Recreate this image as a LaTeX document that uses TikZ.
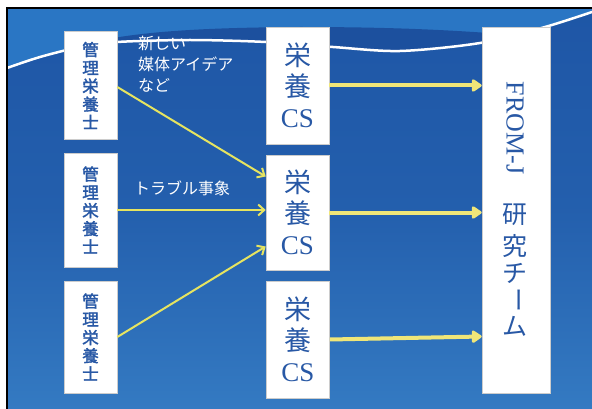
\documentclass[tikz,border=0pt]{standalone}
\usepackage{fontspec}
\setmainfont{Liberation Serif}
\newfontfamily\jp{Noto Sans CJK JP}
\newfontfamily\jpb[FakeBold=2]{Noto Sans CJK JP}
\usetikzlibrary{arrows.meta}
\definecolor{bgtop}{RGB}{30,86,166}
\definecolor{bgbot}{RGB}{52,122,194}
\definecolor{bandlight}{RGB}{42,118,196}
\definecolor{banddark}{RGB}{28,80,158}
\definecolor{txtblue}{RGB}{40,88,165}
\definecolor{arrowyel}{RGB}{230,228,96}
\definecolor{thickyel}{RGB}{240,230,120}
\tikzset{
  kanribox/.style={draw=gray!40,line width=0.6pt,fill=white,minimum width=53pt,inner sep=0pt,
    font=\jpb\fontsize{16.5}{18.2}\selectfont,text=txtblue,align=center},
  csbox/.style={draw=gray!40,line width=0.6pt,fill=white,minimum width=63pt,inner sep=0pt,
    font=\jp\fontsize{27}{31}\selectfont,text=txtblue,align=center},
  fjbox/.style={draw=gray!40,line width=0.6pt,fill=white,minimum width=68pt,minimum height=366pt,inner sep=0pt},
  fjtext/.style={text=txtblue,inner sep=0pt},
  lbl/.style={text=white,font=\jp\fontsize{16}{21}\selectfont,align=left,inner sep=0pt,anchor=north west},
  thin/.style={draw=arrowyel,line width=2pt,-{Straight Barb[length=6pt,width=11pt,line width=2pt]}},
  thick/.style={draw=thickyel,line width=4pt,-{Triangle[length=11pt,width=14pt,round]}},
}
\begin{document}
\begin{tikzpicture}[x=1pt,y=-1pt]
\useasboundingbox (0,0) rectangle (592,409);
% background
\fill[white] (0,0) rectangle (592,409);
\shade[top color=bgtop,bottom color=bgbot,middle color=bgtop!75!bgbot] (7,8) rectangle (592,409);
\begin{scope}
  \clip (7,8) -- plot[smooth] coordinates {(7,68) (40,57) (80,47) (117,42) (190,40) (266,42) (333,47) (400,51) (480,43) (545,27) (592,12)} -- (592,8) -- cycle;
  \fill[bandlight] (7,8) rectangle (592,70);
  \fill[banddark] (7,80) .. controls (60,36) and (150,28) .. (300,27) .. controls (420,27) and (490,32) .. (592,42) -- (592,80) -- cycle;
\end{scope}
\draw[white,line width=2.5pt] plot[smooth] coordinates {(7,68) (40,57) (80,47) (117,42) (190,40) (266,42) (333,47) (400,51) (480,43) (545,27) (592,12)};
\draw[black,line width=1.5pt] (7,409) -- (7,8) -- (592,8);
% left boxes
\node[kanribox,minimum height=108pt] (k1) at (90.5,85.5) {管\\理\\栄\\養\\士};
\node[kanribox,minimum height=114pt] (k2) at (90.5,210) {管\\理\\栄\\養\\士};
\node[kanribox,minimum height=112pt] (k3) at (90.5,337) {管\\理\\栄\\養\\士};
% CS boxes
\node[csbox,minimum height=117pt] (c1) at (297.5,85.5) {栄\\養\\{\rmfamily CS}};
\node[csbox,minimum height=115pt] (c2) at (297.5,212.5) {栄\\養\\{\rmfamily CS}};
\node[csbox,minimum height=117pt] (c3) at (298,339.5) {栄\\養\\{\rmfamily CS}};
% FROM-J box
\node[fjbox] (fj) at (516,210) {};
\node[fjtext,rotate=-90,font=\fontsize{26}{26}\selectfont] (fjname) at (515,128) {FROM-J};
\node[fjtext,font=\jp\fontsize{25}{25}\selectfont] (t1) at (515,215) {研};
\node[fjtext,font=\jp\fontsize{25}{25}\selectfont] (t2) at (515,246) {究};
\node[fjtext,font=\jp\fontsize{25}{25}\selectfont] (t3) at (515,273) {チ};
\node[fjtext,font=\jp\fontsize{25}{25}\selectfont,rotate=-90] (t4) at (515,300) {ー};
\node[fjtext,font=\jp\fontsize{25}{25}\selectfont] (t5) at (515,326) {ム};
% labels
\node[lbl] (l1) at (138,36) {新しい\\媒体アイデア\\など};
\node[lbl] (l2) at (134,181) {トラブル事象};
% thin arrows
\draw[thin] ([yshift=-1.5pt]k1.east) -- ([yshift=36pt]c2.west);
\draw[thin] (k2.east) -- (k2.east -| c2.west);
\draw[thin] (k3.east) -- ([yshift=-34pt]c2.west);
% thick arrows
\draw[thick] (c1.east) -- (c1.east -| fj.west);
\draw[thick] (c2.east) -- (c2.east -| fj.west);
\draw[thick] (c3.east) -- ([yshift=3pt]c3.east -| fj.west);
\end{tikzpicture}
\end{document}
